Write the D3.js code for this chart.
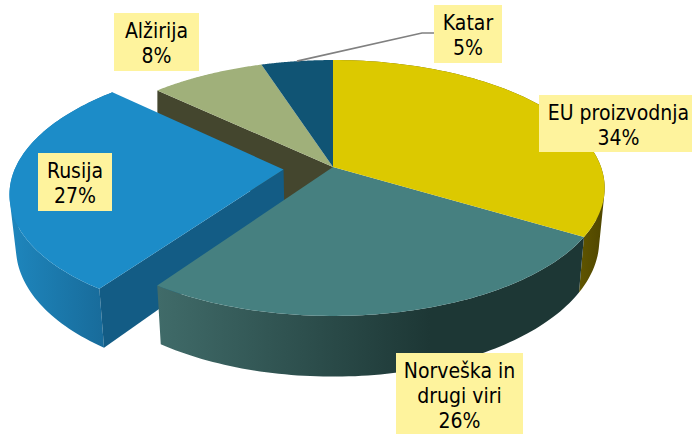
<!DOCTYPE html>
<html>
<head>
<meta charset="utf-8">
<script src="https://cdn.jsdelivr.net/npm/d3@7"></script>
<style>
    html, body { margin: 0; padding: 0; background: #fff; overflow: hidden; }
    text { font-family: "DejaVu Sans Condensed", "DejaVu Sans"; font-stretch: condensed; font-size: 21px; fill: #000; }
</style>
</head>
<body>
<svg id="chart" width="692" height="434"></svg>
<script>
// Slice sizes, clockwise from 12 o'clock (labels show them rounded)
const categories = ["EU proizvodnja", "Norveška in drugi viri", "Rusija", "Alžirija", "Katar"];
const shares = [33.6, 26, 27.4, 8, 5];

const top_colours = ["#dcc900", "#468080", "#1c8cc8", "#a0b07a", "#105474"];
const label_lines = [["EU proizvodnja"], ["Norveška in", "drugi viri"], ["Rusija"], ["Alžirija"], ["Katar"]];
const label_boxes = [[539, 95, 153, 57], [396, 353, 127, 81], [38, 153, 74, 58], [114, 13, 85, 58], [434, 5, 68, 58]];
const label_text_x = [618.5, 459.5, 75, 156.5, 468];

const svg = d3.select("#chart");
const defs = svg.append("defs");

const cx = 333, cy = 167;
const persp = -0.164;     // tilt of the disc
const scale_u = 268, scale_v = 124.5;
const explode = 0.185;    // how far Rusija is pulled out

const slices = d3.pie().sort(null).value(d => d)(shares);

// disc coordinates -> screen
function project(u, v)
{
    const den = 1 + persp * v;
    return [scale_u * u / den, scale_v * v / den];
}

function top_point(angle, off)
{
    const p = project(Math.sin(angle) + off[0], -Math.cos(angle) + off[1]);
    return [cx + p[0], cy + p[1]];
}

function apex_point(off)
{
    const p = project(off[0], off[1]);
    return [cx + p[0], cy + p[1]];
}

// the lower face is a bit narrower and further away
function lower(pt)
{
    const x = pt[0] - cx, y = pt[1] - cy;
    return [cx + x * 0.98, cy + y * 1.065 + 51];
}

function rim(a0, a1, off)
{
    const n = 80;
    return d3.range(n + 1).map(i => top_point(a0 + (a1 - a0) * i / n, off));
}

const line = d3.line();

function offset_of(i)
{
    if (categories[i] !== "Rusija") return [0, 0];
    const mid = (slices[i].startAngle + slices[i].endAngle) / 2;
    return [Math.sin(mid) * explode, -Math.cos(mid) * explode];
}

function top_path(i)
{
    const off = offset_of(i);
    return line([apex_point(off)].concat(rim(slices[i].startAngle, slices[i].endAngle, off))) + "Z";
}

// one quad per rim step, all wound the same way so the silhouette fills as a union
function wall_path(i)
{
    const r = rim(slices[i].startAngle, slices[i].endAngle, offset_of(i));
    let d = "";
    for (let k = 0; k < r.length - 1; k++)
    {
        let quad = [r[k], r[k + 1], lower(r[k + 1]), lower(r[k])];
        if (d3.polygonArea(quad) < 0) quad.reverse();
        d += line(quad) + "Z";
    }
    return d;
}

function make_gradient(id, stops)
{
    const g = defs.append("linearGradient")
        .attr("id", id)
        .attr("gradientUnits", "userSpaceOnUse")
        .attr("x1", stops[0][0]).attr("x2", stops[stops.length - 1][0])
        .attr("y1", 0).attr("y2", 0);
    const span = stops[stops.length - 1][0] - stops[0][0];
    stops.forEach(s => {
        g.append("stop").attr("offset", (s[0] - stops[0][0]) / span).attr("stop-color", s[1]);
    });
}

make_gradient("wall_eu", [[578, "#615600"], [605, "#4e4500"]]);
make_gradient("wall_no", [[158, "#406b69"], [430, "#1d3735"], [583, "#1d3735"]]);
make_gradient("wall_ru", [[10, "#1e86bd"], [105, "#186b9a"]]);

const idx = name => categories.indexOf(name);

// back wall seen in the gap left by Rusija
const alg = slices[idx("Alžirija")];
const back_a = top_point(alg.startAngle, [0, 0]);
const back_b = apex_point([0, 0]);
svg.append("path")
    .attr("d", line([back_a, back_b, [back_b[0], back_b[1] + 60], [back_a[0], back_a[1] + 60]]) + "Z")
    .attr("fill", "#44462e");

["Alžirija", "Katar"].forEach(name => {
    svg.append("path").attr("d", top_path(idx(name))).attr("fill", top_colours[idx(name)]);
});

// Rusija, pulled out
const ru = idx("Rusija");
svg.append("path").attr("d", wall_path(ru)).attr("fill", "url(#wall_ru)");
const ru_off = offset_of(ru);
const ru_apex = apex_point(ru_off);
const ru_corner = top_point(slices[ru].startAngle, ru_off);
svg.append("path")
    .attr("d", line([ru_apex, ru_corner, lower(ru_corner), lower(ru_apex)]) + "Z")
    .attr("fill", "#135c85");
svg.append("path").attr("d", top_path(ru)).attr("fill", top_colours[ru]);

// front of the pie
svg.append("path").attr("d", wall_path(idx("EU proizvodnja"))).attr("fill", "url(#wall_eu)");
svg.append("path").attr("d", wall_path(idx("Norveška in drugi viri"))).attr("fill", "url(#wall_no)");
["Norveška in drugi viri", "EU proizvodnja"].forEach(name => {
    svg.append("path").attr("d", top_path(idx(name))).attr("fill", top_colours[idx(name)]);
});

// leader line for Katar
const katar = slices[idx("Katar")];
const katar_mid = top_point((katar.startAngle + katar.endAngle) / 2, [0, 0]);
svg.append("path")
    .attr("d", line([[434, 33], [422, 33], katar_mid]))
    .attr("fill", "none")
    .attr("stroke", "#808080")
    .attr("stroke-width", 1.7);

// labels
const labels = svg.selectAll("g.label")
    .data(categories)
    .enter()
    .append("g")
    .attr("class", "label");

labels.append("rect")
    .attr("x", (d, i) => label_boxes[i][0])
    .attr("y", (d, i) => label_boxes[i][1])
    .attr("width", (d, i) => label_boxes[i][2])
    .attr("height", (d, i) => label_boxes[i][3])
    .attr("fill", "#fef39d");

labels.each(function (d, i) {
    const box = label_boxes[i];
    const rows = label_lines[i].concat([Math.round(shares[i]) + "%"]);
    d3.select(this).selectAll("text")
        .data(rows)
        .enter()
        .append("text")
        .attr("x", label_text_x[i])
        .attr("y", (r, k) => box[1] + 24.5 + k * 25)
        .attr("text-anchor", "middle")
        .text(r => r);
});
</script>
</body>
</html>
